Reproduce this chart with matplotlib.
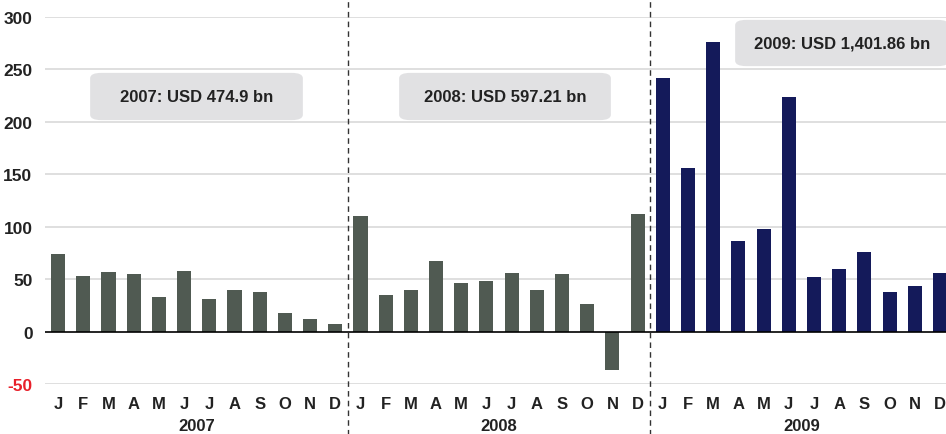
import numpy as np
import matplotlib.pyplot as plt
from matplotlib.patches import FancyBboxPatch

plt.rcParams['font.family'] = ['Liberation Sans', 'DejaVu Sans']

months = ["J", "F", "M", "A", "M", "J", "J", "A", "S", "O", "N", "D"]
years = ["2007", "2008", "2009"]
vals_2007 = [74, 53, 57, 55, 33, 58, 31, 40, 38, 18, 12, 7]
vals_2008 = [110, 35, 40, 67, 46, 48, 56, 40, 55, 26, -37, 112]
vals_2009 = [242, 156, 276, 86, 98, 224, 52, 60, 76, 38, 43, 56]
totals = ["2007: USD 474.9 bn", "2008: USD 597.21 bn", "2009: USD 1,401.86 bn"]
yticks = [-50, 0, 50, 100, 150, 200, 250, 300]

grey = "#505a52"
navy = "#141a5a"

fig = plt.figure(figsize=(9.46, 4.35), dpi=100)
ax = fig.add_axes([45/946, 50/435, 901/946, 367/435])

x = np.arange(36)
vals = vals_2007 + vals_2008 + vals_2009
colors = [grey] * 24 + [navy] * 12
ax.bar(x, vals, width=0.56, color=colors, zorder=3)

ax.set_xlim(-0.52, 35.24)
ax.set_ylim(-50, 300)
for t in yticks:
    if t != 0:
        ax.axhline(t, color="#d9d9d9", lw=1.2, zorder=1)
ax.axhline(0, color="black", lw=1.2, zorder=4)

ax.set_yticks(yticks)
ax.set_yticklabels([str(t) for t in yticks], fontsize=12.5, fontweight="bold", color="#222222")
ax.get_yticklabels()[0].set_color("#e8202a")
ax.set_xticks(x)
ax.set_xticklabels(months * 3, fontsize=12, fontweight="bold", color="#222222")
ax.tick_params(axis="y", length=0, pad=9)
ax.tick_params(axis="x", length=0, pad=9)
for s in ax.spines.values():
    s.set_visible(False)

for i, yr in enumerate(years):
    ax.text(12 * i + 5.5, -0.113, yr, transform=ax.get_xaxis_transform(),
            ha="center", va="center", fontsize=12, fontweight="bold", color="#222222")

# year dividers
for xd in [11.5, 23.5]:
    ax.plot([xd, xd], [-0.2, 1.06], transform=ax.get_xaxis_transform(), clip_on=False,
            color="#333333", lw=1, ls=(0, (4, 3)), zorder=5)

# total boxes (x0, y0, x1, y1 in pixels)
boxes = [(93, 73, 300, 122), (402, 73, 608, 122), (738, 20, 946, 68)]
for (x0, y0, x1, y1), label in zip(boxes, totals):
    fx0, fx1 = x0 / 946, x1 / 946
    fy0, fy1 = 1 - y1 / 435, 1 - y0 / 435
    fig.patches.append(FancyBboxPatch((fx0 + 0.005, fy0 + 0.01), fx1 - fx0 - 0.01, fy1 - fy0 - 0.02,
                                      boxstyle="round,pad=0.008,rounding_size=0.012",
                                      transform=fig.transFigure, fc="#e1e1e3", ec="none", zorder=6))
    fig.text((fx0 + fx1) / 2, (fy0 + fy1) / 2, label, ha="center", va="center",
             fontsize=12, fontweight="bold", color="#222222", zorder=7)

fig.savefig("out.png", dpi=100)
